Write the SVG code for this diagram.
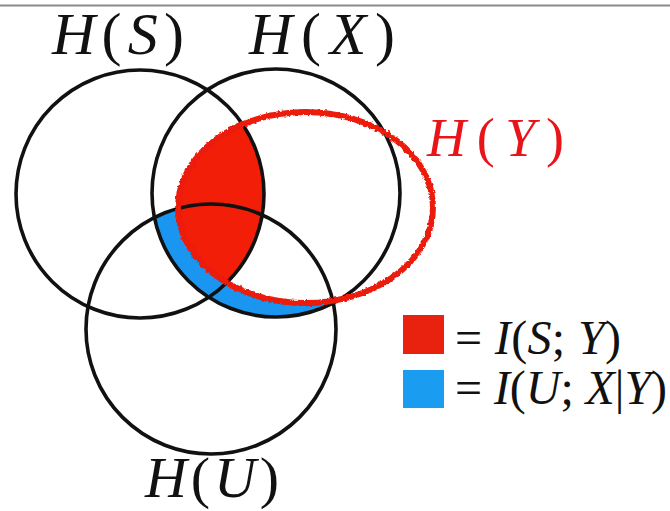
<svg xmlns="http://www.w3.org/2000/svg" width="670" height="511" viewBox="0 0 670 511">
<style>
text{font-family:'Liberation Serif','Times New Roman',serif;fill:#111}
.it{font-style:italic}
.circ{fill:none;stroke:#111;stroke-width:3.6}
</style>
<defs>
<clipPath id="clipS"><circle cx="140" cy="194" r="124"/></clipPath>
<clipPath id="clipU"><circle cx="211" cy="329" r="125"/></clipPath>
<filter id="rough" x="-10%" y="-10%" width="120%" height="120%">
<feTurbulence type="fractalNoise" baseFrequency="0.35" numOctaves="2" seed="3"/>
<feDisplacementMap in="SourceGraphic" scale="3.5" xChannelSelector="R" yChannelSelector="G"/>
</filter>
</defs>
<rect width="670" height="511" fill="#fff"/>
<rect x="0" y="4.5" width="670" height="2" fill="#8a8a8a"/>

<g id="regions">
<circle cx="276" cy="193" r="124" fill="#1a96f0" clip-path="url(#clipU)"/>
<ellipse cx="305.5" cy="207.5" rx="127.5" ry="95.5" fill="#fff"/>
<ellipse cx="305.5" cy="207.5" rx="127.5" ry="95.5" fill="#f21e08" clip-path="url(#clipS)"/>
</g>

<g id="node-S"><circle class="circ" cx="140" cy="194" r="124"/>
<text x="52" y="54" font-size="60" textLength="132" lengthAdjust="spacing"><tspan class="it">H</tspan>(<tspan class="it">S</tspan>)</text></g>
<g id="node-X"><circle class="circ" cx="276" cy="193" r="124"/>
<text x="249" y="54" font-size="60" textLength="146" lengthAdjust="spacing"><tspan class="it">H</tspan>(<tspan class="it">X</tspan>)</text></g>
<g id="node-U"><circle class="circ" cx="211" cy="329" r="125"/>
<text x="145" y="497" font-size="58" textLength="134" lengthAdjust="spacing"><tspan class="it">H</tspan>(<tspan class="it">U</tspan>)</text></g>
<g id="node-Y"><ellipse cx="305.5" cy="207.5" rx="127.5" ry="95.5" fill="none" stroke="#ec1a10" stroke-width="6" filter="url(#rough)"/>
<text x="427" y="156" font-size="54" textLength="137" lengthAdjust="spacing" style="fill:#e8141a"><tspan class="it">H</tspan>(<tspan class="it">Y</tspan>)</text></g>

<g id="legend">
<rect x="403" y="315" width="41" height="39" fill="#e8220f"/>
<rect x="403" y="370" width="41" height="38" fill="#1a9cf0"/>
<text x="455" y="354" font-size="48" textLength="166" lengthAdjust="spacing">= <tspan class="it">I</tspan>(<tspan class="it">S</tspan>; <tspan class="it">Y</tspan>)</text>
<text x="455" y="404" font-size="48" textLength="212" lengthAdjust="spacing">= <tspan class="it">I</tspan>(<tspan class="it">U</tspan>; <tspan class="it">X</tspan>|<tspan class="it">Y</tspan>)</text>
</g>
</svg>
